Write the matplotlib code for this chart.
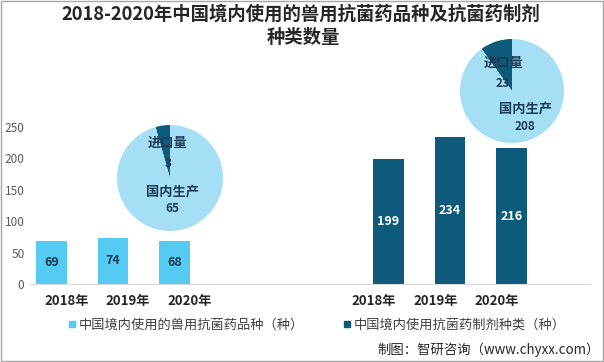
import numpy as np
import matplotlib
matplotlib.use('Agg')
import matplotlib.pyplot as plt
from matplotlib.patches import Rectangle
from matplotlib.lines import Line2D

plt.rcParams['font.family'] = ['Noto Sans CJK SC', 'DejaVu Sans']

# data
years = ['2018年', '2019年', '2020年']
varieties = [69, 74, 68]          # 兽用抗菌药品种
preparations = [199, 234, 216]    # 抗菌药制剂种类
pie1_labels = ['进口量', '国内生产']
pie1_values = [3, 65]
pie2_labels = ['进口量', '国内生产']
pie2_values = [23, 208]

c_light = '#55CBF3'
c_dark = '#0D5A7B'
c_pie = '#A5DFF6'
c_text = '#1B3A55'

fig = plt.figure(figsize=(6.04, 3.62), dpi=100)
fig.patch.set_facecolor('white')

ax = fig.add_axes([30/604, 78/362, 560/604, 188.4/362])
x1 = np.arange(3)
x2 = np.arange(3) + 5.48
b1 = ax.bar(x1, varieties, width=0.5, color=c_light)
b2 = ax.bar(x2, preparations, width=0.5, color=c_dark)
for rect, v in zip(b1, varieties):
    ax.text(rect.get_x() + rect.get_width()/2, v/2, str(v), ha='center', va='center',
            fontsize=9, fontweight='bold', color=c_text)
for rect, v in zip(b2, preparations):
    ax.text(rect.get_x() + rect.get_width()/2, v/2, str(v), ha='center', va='center',
            fontsize=9, fontweight='bold', color='white')

ax.set_xlim(-0.35, 8.756)
ax.set_ylim(0, 300)
ax.set_yticks(np.arange(0, 251, 50))
ax.tick_params(axis='y', length=0, labelsize=8.5, labelcolor='#595959', pad=4)
# year labels sit a bit off the bar centres in the original
ax.set_xticks(list(x1 + 0.24) + list(x2 - 0.24))
ax.set_xticklabels(years + years, fontsize=9.5, fontweight='bold', color='#262626')
ax.tick_params(axis='x', length=0, pad=7)
for s in ['top', 'right', 'left']:
    ax.spines[s].set_visible(False)
ax.spines['bottom'].set_color('#D9D9D9')

# pies
def draw_pie(rect, values, labels, pos):
    pa = fig.add_axes(rect)
    pa.pie(values, colors=[c_dark, c_pie], startangle=90, counterclock=True, radius=1)
    pa.set_xlim(-1, 1)
    pa.set_ylim(-1, 1)
    pa.set_aspect('equal')
    pa.axis('off')
    (lx, ly), (vx, vy), (lx2, ly2), (vx2, vy2) = pos
    pa.text(lx, ly, labels[0], ha='center', va='center', fontsize=9.5, fontweight='bold', color=c_text)
    pa.text(vx, vy, str(values[0]), ha='center', va='center', fontsize=8.5, fontweight='bold', color=c_text)
    pa.text(lx2, ly2, labels[1], ha='center', va='center', fontsize=9.5, fontweight='bold', color=c_text)
    pa.text(vx2, vy2, str(values[1]), ha='center', va='center', fontsize=8.5, fontweight='bold', color=c_text)

draw_pie([117/604, 131/362, 106/604, 106/362], pie1_values, pie1_labels,
         [(-0.04, 0.66), (-0.04, 0.28), (0.04, -0.26), (0.04, -0.58)])
draw_pie([460/604, 219/362, 104/604, 104/362], pie2_values, pie2_labels,
         [(-0.17, 0.54), (-0.19, 0.15), (0.25, -0.33), (0.25, -0.69)])

# title
fig.text(301/604, 1 - 14/362, '2018-2020年中国境内使用的兽用抗菌药品种及抗菌药制剂',
         ha='center', va='center', fontsize=13.2, fontweight='bold', color='#262626')
fig.text(303/604, 1 - 37/362, '种类数量', ha='center', va='center',
         fontsize=13.2, fontweight='bold', color='#262626')

# legend
handles = [Line2D([], [], marker='s', linestyle='none', markersize=4.5, color=c_light),
           Line2D([], [], marker='s', linestyle='none', markersize=4.5, color=c_dark)]
fig.legend(handles, ['中国境内使用的兽用抗菌药品种（种）', '中国境内使用抗菌药制剂种类（种）'],
           loc='center left', bbox_to_anchor=(56/604, 1 - 325/362), ncol=2, frameon=False,
           fontsize=9.5, handlelength=0.6, handletextpad=0.25, columnspacing=2.9,
           labelcolor='#404040')

fig.text(600/604, 1 - 350/362, '制图：智研咨询（www.chyxx.com）', ha='right', va='center',
         fontsize=9.6, color='#262626')

fig.add_artist(Rectangle((0.001, 0.002), 0.997, 0.995, transform=fig.transFigure,
                         fill=False, edgecolor='#A6A6A6', linewidth=1))

fig.savefig('out.png', dpi=100)
